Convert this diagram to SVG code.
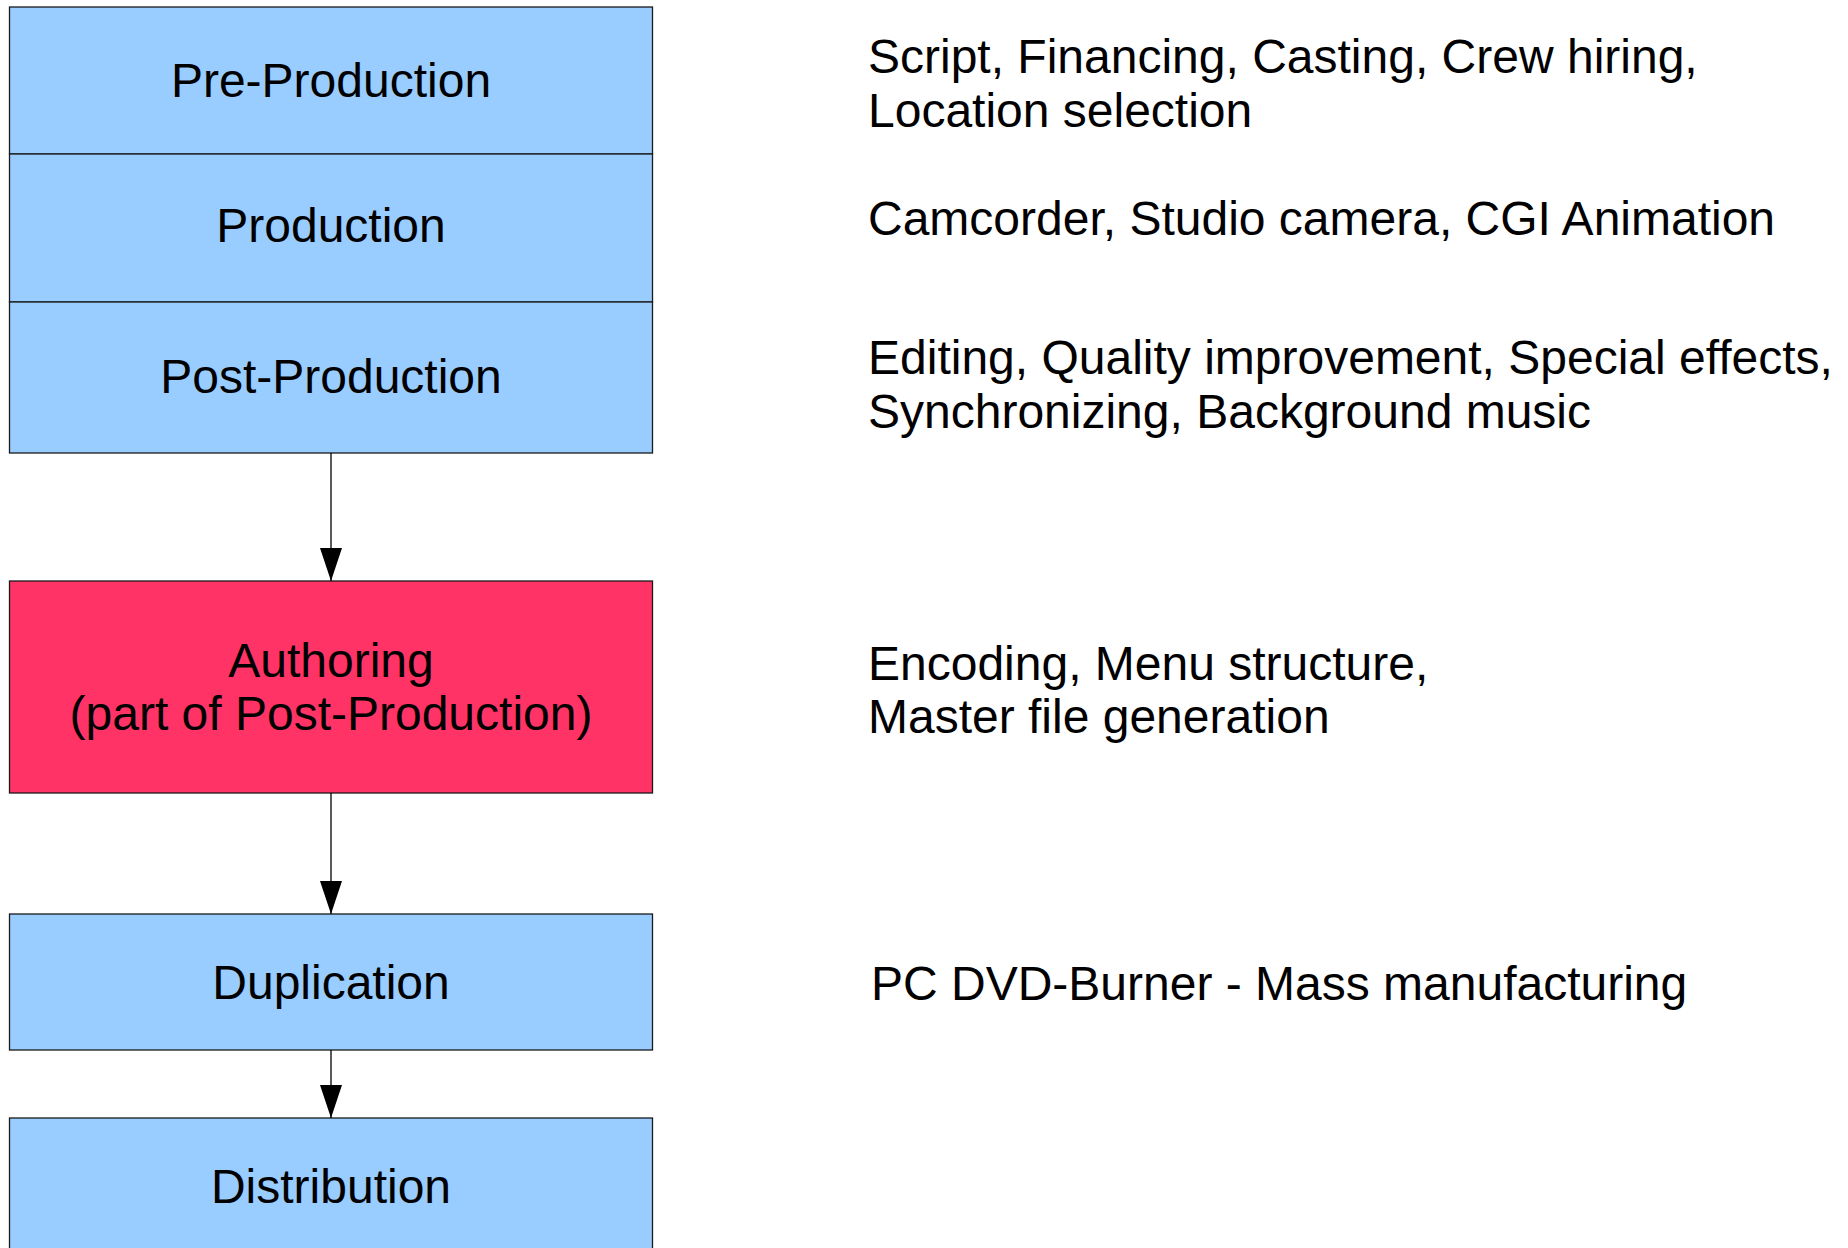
<svg xmlns="http://www.w3.org/2000/svg" width="1848" height="1248" viewBox="0 0 1848 1248">
<style>
text{font-family:"Liberation Sans",Arial,sans-serif;font-size:48px;fill:#000}
.c{text-anchor:middle}
.blue{fill:#99ccff;stroke:#1a1a1a;stroke-width:1.3}
.red{fill:#ff3366;stroke:#1a1a1a;stroke-width:1.3}
.conn{stroke:#000;stroke-width:1.3;fill:none}
</style>
<defs>
<marker id="arr" viewBox="0 0 33 22" refX="33" refY="11" markerWidth="33" markerHeight="22" markerUnits="userSpaceOnUse" orient="auto">
<path d="M0,0 L33,11 L0,22 Z" fill="#000"/>
</marker>
</defs>
<rect width="1848" height="1248" fill="#fff"/>
<g id="pre-production">
<rect class="blue" x="9.5" y="7" width="643" height="147"/>
<text class="c" x="331" y="97">Pre-Production</text>
</g>
<g id="production">
<rect class="blue" x="9.5" y="154" width="643" height="148"/>
<text class="c" x="331" y="242">Production</text>
</g>
<g id="post-production">
<rect class="blue" x="9.5" y="302" width="643" height="151"/>
<text class="c" x="331" y="393">Post-Production</text>
</g>
<g id="authoring">
<rect class="red" x="9.5" y="581" width="643" height="212"/>
<text class="c" x="331" y="677">Authoring</text>
<text class="c" x="331" y="730">(part of Post-Production)</text>
</g>
<g id="duplication">
<rect class="blue" x="9.5" y="914" width="643" height="136"/>
<text class="c" x="331" y="999">Duplication</text>
</g>
<g id="distribution">
<rect class="blue" x="9.5" y="1118" width="643" height="140"/>
<text class="c" x="331" y="1203">Distribution</text>
</g>
<g id="connectors">
<line class="conn" x1="331" y1="453" x2="331" y2="581" marker-end="url(#arr)"/>
<line class="conn" x1="331" y1="793" x2="331" y2="914" marker-end="url(#arr)"/>
<line class="conn" x1="331" y1="1050" x2="331" y2="1118" marker-end="url(#arr)"/>
</g>
<g id="notes">
<text x="868" y="73">Script, Financing, Casting, Crew hiring,</text>
<text x="868" y="127">Location selection</text>
<text x="868" y="235">Camcorder, Studio camera, CGI Animation</text>
<text x="868" y="374">Editing, Quality improvement, Special effects,</text>
<text x="868" y="428">Synchronizing, Background music</text>
<text x="868" y="680">Encoding, Menu structure,</text>
<text x="868" y="733">Master file generation</text>
<text x="871" y="1000">PC DVD-Burner - Mass manufacturing</text>
</g>
</svg>
